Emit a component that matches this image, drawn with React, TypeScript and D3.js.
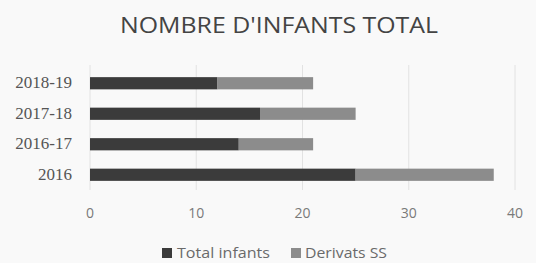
import * as d3 from "d3";

const categories = ["2018-19", "2017-18", "2016-17", "2016"];
const totalInfants = [12, 16, 14, 25];
const derivatsSS = [9, 9, 7, 13];
const xTicks = [0, 10, 20, 30, 40];
const seriesNames = ["Total infants", "Derivats SS"];
const colors = ["#3b3b3b", "#8c8c8c"];

const W = 536;
const H = 263;
const left = 90;
const right = 515;
const top = 68;
const bottom = 190;

export default function App() {
  const x = d3.scaleLinear().domain([0, 40]).range([left, right]);
  const y = d3.scaleBand().domain(categories).range([top, bottom]).paddingInner(0.6).paddingOuter(0.3);

  const stacked = categories.map((c, i) => ({
    cat: c,
    segs: [
      { x0: 0, x1: totalInfants[i], color: colors[0] },
      { x0: totalInfants[i], x1: totalInfants[i] + derivatsSS[i], color: colors[1] },
    ],
  }));

  return (
    <svg width={W} height={H} style={{ position: "absolute", left: 0, top: 0, background: "#f9f9f9" }}>
      <text
        x={120}
        y={33}
        textLength={318}
        lengthAdjust="spacingAndGlyphs"
        fontFamily="Open Sans, sans-serif"
        fontSize={21}
        fill="#444"
      >
        NOMBRE D'INFANTS TOTAL
      </text>
      {xTicks.map((t) => (
        <g key={t}>
          <line x1={x(t)} x2={x(t)} y1={top - 3} y2={bottom} stroke="#e2e2e2" strokeWidth={1} />
          <text x={x(t)} y={218} textAnchor="middle" fontFamily="Open Sans, sans-serif" fontSize={14} fill="#7a7a7a">
            {t}
          </text>
        </g>
      ))}
      {stacked.map((d) => (
        <g key={d.cat}>
          <text
            x={left - 18}
            y={(y(d.cat) as number) + y.bandwidth() / 2 + 5}
            textAnchor="end"
            fontFamily="Liberation Serif, serif"
            fontSize={17}
            fill="#555"
          >
            {d.cat}
          </text>
          {d.segs.map((s, j) => (
            <rect key={j} x={x(s.x0)} y={y(d.cat)} width={x(s.x1) - x(s.x0)} height={y.bandwidth()} fill={s.color} />
          ))}
        </g>
      ))}
      <g fontFamily="Open Sans, sans-serif" fontSize={15} fill="#6a6a6a">
        <rect x={162} y={248} width={10} height={10} fill={colors[0]} />
        <text x={177} y={258} textLength={93} lengthAdjust="spacingAndGlyphs">{seriesNames[0]}</text>
        <rect x={291} y={248} width={10} height={10} fill={colors[1]} />
        <text x={305} y={258} textLength={82} lengthAdjust="spacingAndGlyphs">{seriesNames[1]}</text>
      </g>
    </svg>
  );
}
